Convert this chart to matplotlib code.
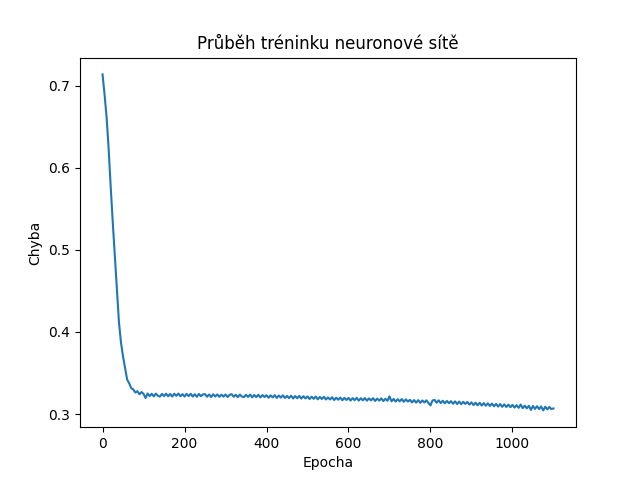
import numpy as np
import matplotlib
matplotlib.use("Agg")
import matplotlib.pyplot as plt

# loss every 5 epochs (0 .. 1100)
epochs = np.arange(0, 1101, 5)
loss = [
    0.7140, 0.6890, 0.6610, 0.6220, 0.5760, 0.5330, 0.4930, 0.4510, 0.4120, 0.3870,
    0.3700, 0.3560, 0.3420, 0.3375, 0.3315, 0.3300, 0.3262, 0.3278, 0.3240, 0.3268,
    0.3245, 0.3195, 0.3250, 0.3218, 0.3247, 0.3215, 0.3249, 0.3222, 0.3212, 0.3246,
    0.3218, 0.3248, 0.3216, 0.3244, 0.3213, 0.3247, 0.3222, 0.3250, 0.3216, 0.3242,
    0.3213, 0.3245, 0.3218, 0.3247, 0.3212, 0.3241, 0.3210, 0.3244, 0.3217, 0.3239,
    0.3242, 0.3210, 0.3238, 0.3207, 0.3241, 0.3213, 0.3239, 0.3209, 0.3236, 0.3212,
    0.3238, 0.3207, 0.3234, 0.3241, 0.3210, 0.3235, 0.3205, 0.3237, 0.3212, 0.3207,
    0.3234, 0.3208, 0.3237, 0.3203, 0.3232, 0.3206, 0.3234, 0.3202, 0.3231, 0.3207,
    0.3229, 0.3198, 0.3227, 0.3202, 0.3230, 0.3196, 0.3225, 0.3200, 0.3228, 0.3195,
    0.3221, 0.3194, 0.3223, 0.3189, 0.3219, 0.3192, 0.3221, 0.3188, 0.3217, 0.3190,
    0.3214, 0.3182, 0.3211, 0.3185, 0.3213, 0.3179, 0.3208, 0.3183, 0.3210, 0.3177,
    0.3202, 0.3177, 0.3205, 0.3170, 0.3199, 0.3174, 0.3201, 0.3168, 0.3197, 0.3171,
    0.3196, 0.3164, 0.3194, 0.3168, 0.3197, 0.3163, 0.3192, 0.3167, 0.3195, 0.3162,
    0.3191, 0.3166, 0.3193, 0.3159, 0.3188, 0.3163, 0.3191, 0.3157, 0.3186, 0.3161,
    0.3215, 0.3154, 0.3184, 0.3151, 0.3181, 0.3154, 0.3183, 0.3149, 0.3178, 0.3152,
    0.3173, 0.3141, 0.3170, 0.3139, 0.3169, 0.3136, 0.3166, 0.3140, 0.3167, 0.3134,
    0.3105, 0.3165, 0.3172, 0.3138, 0.3167, 0.3133, 0.3162, 0.3130, 0.3159, 0.3132,
    0.3157, 0.3125, 0.3154, 0.3122, 0.3152, 0.3120, 0.3149, 0.3123, 0.3147, 0.3115,
    0.3142, 0.3109, 0.3138, 0.3106, 0.3137, 0.3103, 0.3133, 0.3101, 0.3130, 0.3098,
    0.3128, 0.3094, 0.3123, 0.3090, 0.3121, 0.3087, 0.3118, 0.3085, 0.3115, 0.3082,
    0.3112, 0.3078, 0.3108, 0.3075, 0.3115, 0.3071, 0.3102, 0.3069, 0.3100, 0.3050,
    0.3098, 0.3062, 0.3095, 0.3060, 0.3092, 0.3044, 0.3089, 0.3056, 0.3086, 0.3060,
    0.3068,
]

fig = plt.figure(figsize=(6.4, 4.8), dpi=100)
plt.plot(epochs, loss)
plt.title("Průběh tréninku neuronové sítě")
plt.xlabel("Epocha")
plt.ylabel("Chyba")
plt.savefig("out.png")
